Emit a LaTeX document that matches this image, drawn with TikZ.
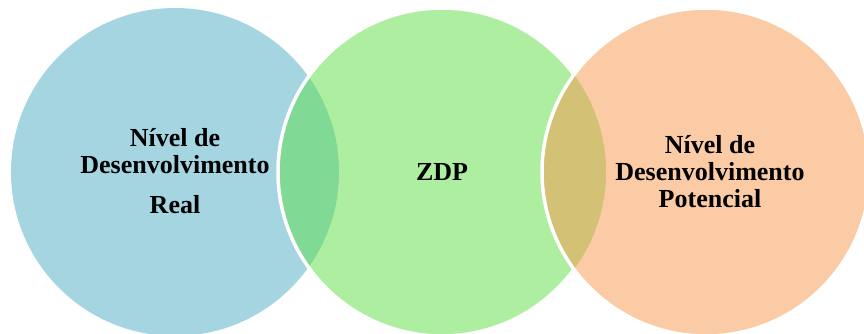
\documentclass[tikz,border=0pt]{standalone}
\usepackage{fontspec}
\setmainfont{Liberation Serif}
\definecolor{realblue}{RGB}{166,213,226}
\definecolor{zdpgreen}{RGB}{174,238,160}
\definecolor{potorange}{RGB}{250,203,164}
\definecolor{lensleft}{RGB}{128,217,148}
\definecolor{lensright}{RGB}{211,193,118}
\tikzset{
  label text/.style={font=\bfseries\fontsize{26}{27}\selectfont, align=center, inner sep=0pt},
  rim/.style={draw=white, line width=3.5pt}
}
\begin{document}
\begin{tikzpicture}[x=1pt,y=1pt]
\useasboundingbox (0,0) rectangle (864,334);
\def\rad{164}
\coordinate (cl) at (175,162);
\coordinate (cm) at (442,162);
\coordinate (cr) at (706,162);
\begin{scope}
  \clip (0,0) rectangle (864,334);
  % left circle
  \fill[realblue] (cl) circle (\rad);
  % middle circle and its overlap with the left one
  \fill[zdpgreen] (cm) circle (\rad);
  \begin{scope}
    \clip (cl) circle (\rad);
    \fill[lensleft] (cm) circle (\rad);
  \end{scope}
  \draw[rim] (cm) circle (\rad);
  % right circle and its overlap with the middle one
  \fill[potorange] (cr) circle (\rad);
  \begin{scope}
    \clip (cm) circle (\rad);
    \fill[lensright] (cr) circle (\rad);
  \end{scope}
  \draw[rim] (cr) circle (\rad);
\end{scope}
\node[label text] (real) at (175,163) {Nível de\\Desenvolvimento\\[13pt]Real};
\node[label text] (zdp) at (442,162) {ZDP};
\node[label text] (pot) at (710,162) {Nível de\\Desenvolvimento\\Potencial};
\end{tikzpicture}
\end{document}
